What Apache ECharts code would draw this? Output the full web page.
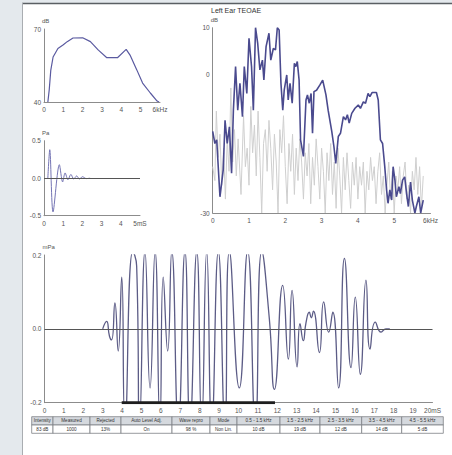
<!DOCTYPE html>
<html><head><meta charset="utf-8">
<script src="https://cdn.jsdelivr.net/npm/echarts@6.0.0/dist/echarts.min.js"></script>
<style>html,body{margin:0;padding:0;background:#e4e9ed;}#c{width:452px;height:455px;}</style>
</head><body><div id="c"></div>
<script>
// ---- data ----
const titleText = 'Left Ear TEOAE';
// stimulus spectrum (top-left)
const specF  = [0.2, 0.27, 0.35, 0.47, 0.72, 1.0, 1.2, 1.5, 2.0, 2.4, 2.8, 3.25, 3.8, 4.25, 4.45, 4.8, 5.1, 5.5, 5.85, 5.95];
const specDb = [40, 45, 53, 58.5, 62, 63.5, 64.8, 66.3, 66.4, 64.8, 61.4, 58.2, 58.2, 61.6, 59.3, 53.2, 47.8, 43.7, 40.4, 40];
// stimulus waveform (middle-left)
const pulseT = [0.2, 0.3, 0.47, 0.8, 0.97, 1.1, 1.25, 1.4, 1.55, 1.7, 1.85, 2.0, 2.2, 2.4];
const pulseV = [0, 0.38, -0.45, 0.18, -0.05, 0.07, -0.02, 0.05, -0.01, 0.03, -0.01, 0.02, -0.005, 0];
// TEOAE response spectrum (top-right)
const oaeF  = [0, 0.06, 0.11, 0.2, 0.29, 0.34, 0.4, 0.46, 0.52, 0.57, 0.63, 0.69, 0.75, 0.82, 0.87, 0.94, 1.0, 1.07, 1.12, 1.18, 1.24, 1.3, 1.37, 1.41, 1.47, 1.55, 1.6, 1.67, 1.73, 1.78, 1.83, 1.88, 1.93, 1.97, 2.04, 2.08, 2.13, 2.19, 2.25, 2.29, 2.33, 2.38, 2.42, 2.5, 2.57, 2.61, 2.66, 2.71, 2.75, 2.79, 2.86, 2.95, 3.03, 3.12, 3.18, 3.28, 3.34, 3.39, 3.46, 3.52, 3.6, 3.66, 3.71, 3.76, 3.83, 3.92, 4.01, 4.07, 4.15, 4.21, 4.28, 4.33, 4.39, 4.51, 4.56, 4.62, 4.68, 4.74, 4.79, 4.83, 4.88, 4.93, 4.97, 5.02, 5.06, 5.13, 5.17, 5.23, 5.29, 5.34, 5.39, 5.45, 5.5, 5.57, 5.61, 5.68, 5.73, 5.8];
const oaeDb = [-12.4, -15, -14.2, -26.5, -20.7, -10, -15, -11.4, -21.4, -7.8, 1.6, -7.8, -2, -9.2, 1.6, -4.2, 7.7, 1.6, -7.8, 10, 6.6, 0.9, 3, -1.3, 5.9, 8.8, 3, 5.5, 5.2, 10, 9.5, -2, -7.8, -3.5, -0.2, -5.6, -2, -6.3, 2.3, 1.6, 2.7, -1.3, -14.2, -17.8, -5.6, -4.5, -6.3, -4.2, -12.8, -3.8, -3.5, -2.4, -1.3, -4.5, -7.8, -12.4, -15.7, -19.3, -13.5, -12.8, -9.2, -9.9, -8.8, -10.6, -8.5, -7.4, -6.7, -7.4, -6, -6.3, -4.2, -4.9, -4, -4, -5.6, -14.2, -15, -20, -25, -27.9, -25, -27.2, -20, -22.9, -26.5, -24.3, -25.8, -22.9, -22.2, -25.8, -28.6, -23.3, -27.2, -30, -28.6, -26.5, -30, -27.2];
// noise spectrum (top-right, grey)
const noiseF  = [0, 0.06, 0.1, 0.15, 0.2, 0.25, 0.3, 0.35, 0.4, 0.45, 0.5, 0.55, 0.6, 0.65, 0.7, 0.78, 0.85, 0.9, 0.95, 1.0, 1.05, 1.1, 1.15, 1.2, 1.25, 1.3, 1.35, 1.4, 1.45, 1.5, 1.55, 1.6, 1.65, 1.7, 1.75, 1.8, 1.85, 1.9, 1.95, 2.0, 2.05, 2.1, 2.15, 2.2, 2.25, 2.3, 2.35, 2.4, 2.45, 2.5, 2.55, 2.6, 2.65, 2.7, 2.75, 2.8, 2.85, 2.9, 2.95, 3.0, 3.05, 3.1, 3.15, 3.2, 3.25, 3.3, 3.35, 3.4, 3.45, 3.5, 3.55, 3.6, 3.65, 3.7, 3.75, 3.8, 3.85, 3.9, 3.95, 4.0, 4.05, 4.1, 4.15, 4.2, 4.25, 4.3, 4.35, 4.4, 4.45, 4.5, 4.55, 4.6, 4.65, 4.7, 4.75, 4.8, 4.85, 4.9, 4.95, 5.0, 5.05, 5.1, 5.15, 5.2, 5.25, 5.3, 5.35, 5.4, 5.45, 5.5, 5.55, 5.6, 5.65, 5.7, 5.75, 5.8];
const noiseDb = [-20, -23, -8, -18, -13, -24, -16, -27, -14, -21, -3, -19, -12, -22, -14, -26, -9, -20, -16, -24, -7, -17, -11, -22, -8, -18, -30, -15, -12, -21, -10, -16, -25, -13, -19, -30, -12, -17, -9, -20, -28, -15, -21, -13, -26, -16, -23, -14, -19, -27, -17, -22, -15, -28, -18, -24, -14, -20, -27, -16, -21, -30, -17, -23, -15, -26, -19, -29, -16, -22, -30, -18, -25, -17, -23, -29, -19, -24, -18, -27, -20, -24, -19, -30, -21, -25, -18, -23, -20, -28, -21, -17, -26, -22, -30, -24, -19, -27, -21, -30, -22, -25, -20, -28, -22, -19, -27, -24, -30, -21, -25, -18, -26, -20, -29, -22];
// TEOAE time waveform (bottom)
const waveT = [3.0, 3.2, 3.35, 3.46, 3.63, 3.8, 3.98, 4.15, 4.55, 4.75, 4.9, 5.18, 5.44, 5.7, 5.95, 6.12, 6.35, 6.56, 6.9, 7.24, 7.5, 7.85, 8.1, 8.36, 8.62, 8.96, 9.3, 9.53, 10.04, 10.47, 10.87, 11.2, 11.59, 11.85, 12.28, 12.57, 12.76, 13.02, 13.17, 13.34, 13.48, 13.65, 13.75, 13.86, 14.17, 14.39, 14.65, 14.86, 15.16, 15.46, 15.8, 16.02, 16.28, 16.57, 16.78, 17.05, 17.35, 17.6, 17.8];
const waveV = [0, 0.02, -0.02, -0.03, 0.07, -0.06, 0.14, -0.26, 0.21, 0.17, -0.26, 0.21, -0.16, 0.21, -0.26, 0.14, -0.06, 0.21, -0.26, 0.21, -0.26, 0.21, -0.26, 0.21, -0.26, 0.21, -0.26, 0.21, -0.16, 0.21, -0.26, 0.21, 0.027, -0.164, 0.118, -0.082, 0.104, -0.103, 0.014, -0.032, 0.017, 0.045, 0.03, 0.048, -0.064, 0.073, -0.009, 0.045, -0.16, 0.191, -0.105, 0.086, -0.123, 0.132, -0.055, 0.018, -0.009, 0, 0];
const windowT = [3.98, 11.88];
const windowV = [-0.2, -0.2];
// result table
const tableHeaders = ['Intensity', 'Measured', 'Rejected', 'Auto Level Adj.', 'Wave repro', 'Mode', '0.5 - 1.5 kHz', '1.5 - 2.5 kHz', '2.5 - 3.5 kHz', '3.5 - 4.5 kHz', '4.5 - 5.5 kHz'];
const tableValues  = ['83 dB', '1000', '13%', 'On', '98 %', 'Non Lin.', '10 dB', '19 dB', '12 dB', '14 dB', '5 dB'];

// ---- chart ----
const zip = (a, b) => a.map((v, i) => [v, b[i]]);
const FONT = 'Liberation Sans';
const lbl = (extra) => Object.assign({fontSize: 6.5, color: '#555', fontFamily: FONT, margin: 3}, extra || {});
function xAx(g, max, unit) {
  return {type: 'value', gridIndex: g, min: 0, max: max, interval: 1,
    axisLine: {show: true, onZero: false, lineStyle: {color: '#8c8c8c', width: 1}},
    axisTick: {show: false}, splitLine: {show: false},
    axisLabel: lbl({margin: 4, formatter: v => v === max ? max + unit : String(v)})};
}
function yAx(g, min, max, interval, name, fmt) {
  return {type: 'value', gridIndex: g, min: min, max: max, interval: interval,
    name: name, nameLocation: 'end', nameGap: 5,
    nameTextStyle: {fontSize: 6, color: '#555', fontFamily: FONT, align: 'left', padding: [0, 0, 0, -2]},
    axisLine: {show: true, onZero: false, lineStyle: {color: '#8c8c8c', width: 1}}, axisTick: {show: false}, splitLine: {show: false},
    axisLabel: lbl({formatter: fmt})};
}
const f1 = v => (Math.abs(v) < 1e-9 ? '0.0' : v.toFixed(1));

// table graphics
const colX = [31.7, 53, 90, 121, 172, 210, 237, 280, 320, 361.7, 401.7, 443.3];
const tTop = 416.7, rowH = 8.3;
const graphics = [
  {type: 'rect', shape: {x: 22, y: 3, width: 430, height: 452}, style: {fill: '#ffffff'}, z: -10},
  {type: 'line', shape: {x1: 22, y1: 3.5, x2: 452, y2: 3.5}, style: {stroke: '#5a5f63', lineWidth: 1.5}, z: -9},
  {type: 'line', shape: {x1: 22.5, y1: 3, x2: 22.5, y2: 455}, style: {stroke: '#a9adb1', lineWidth: 1}, z: -9},
  {type: 'text', style: {x: 211, y: 10, text: titleText, font: '7px "Liberation Sans"', fill: '#333', textVerticalAlign: 'middle'}}
];
for (let i = 0; i < tableHeaders.length; i++) {
  const x = colX[i], w = colX[i + 1] - colX[i];
  graphics.push({type: 'rect', shape: {x: x, y: tTop, width: w, height: rowH}, style: {fill: '#d5d9de', stroke: '#7d8286', lineWidth: 0.8}});
  graphics.push({type: 'rect', shape: {x: x, y: tTop + rowH, width: w, height: rowH}, style: {fill: '#ffffff', stroke: '#7d8286', lineWidth: 0.8}});
  graphics.push({type: 'text', style: {x: x + w / 2, y: tTop + rowH / 2, text: tableHeaders[i], font: '4.6px "Liberation Sans"', fill: '#333', textAlign: 'center', textVerticalAlign: 'middle'}});
  graphics.push({type: 'text', style: {x: x + w / 2, y: tTop + rowH * 1.5, text: tableValues[i], font: '4.6px "Liberation Sans"', fill: '#333', textAlign: 'center', textVerticalAlign: 'middle'}});
}

const chart = echarts.init(document.getElementById('c'), null, {renderer: 'svg', width: 452, height: 455});
chart.setOption({
  backgroundColor: '#e4e9ed',
  animation: false,
  graphic: graphics,
  grid: [
    {left: 44, top: 29, width: 116, height: 73},
    {left: 44, top: 140.7, width: 96, height: 75},
    {left: 212.7, top: 27.7, width: 217.8, height: 185.3},
    {left: 44.5, top: 255, width: 388, height: 147.7}
  ],
  xAxis: [xAx(0, 6, 'kHz'), xAx(1, 5, 'mS'), xAx(2, 6, 'kHz'), xAx(3, 20, 'mS')],
  yAxis: [
    yAx(0, 40, 70, 30, 'dB', v => String(v)),
    yAx(1, -0.5, 0.5, 0.5, 'Pa', f1),
    yAx(2, -30, 10, 10, 'dB', v => (v === 10 || v === 0 || v === -30) ? String(v) : ''),
    yAx(3, -0.2, 0.2, 0.2, 'mPa', f1)
  ],
  series: [
    {type: 'line', xAxisIndex: 0, yAxisIndex: 0, data: zip(specF, specDb), showSymbol: false,
      lineStyle: {color: '#5a5aa0', width: 1.2}},
    {type: 'line', xAxisIndex: 1, yAxisIndex: 1, data: zip(pulseT, pulseV), showSymbol: false, smooth: 0.3,
      lineStyle: {color: '#7474b4', width: 1},
      markLine: {silent: true, symbol: 'none', label: {show: false}, lineStyle: {color: '#555', width: 1, type: 'solid'}, data: [{yAxis: 0}]}},
    {type: 'line', xAxisIndex: 2, yAxisIndex: 2, data: zip(noiseF, noiseDb), showSymbol: false,
      lineStyle: {color: '#cfcfcf', width: 1}},
    {type: 'line', xAxisIndex: 2, yAxisIndex: 2, data: zip(oaeF, oaeDb), showSymbol: false,
      lineStyle: {color: '#4a4a8e', width: 1.6}},
    {type: 'line', xAxisIndex: 3, yAxisIndex: 3, data: zip(waveT, waveV), showSymbol: false, smooth: 0.55, clip: true,
      lineStyle: {color: '#5c5c86', width: 1.3},
      markLine: {silent: true, symbol: 'none', label: {show: false}, lineStyle: {color: '#555', width: 1.2, type: 'solid'}, data: [{yAxis: 0}]}},
    {type: 'line', xAxisIndex: 3, yAxisIndex: 3, data: zip(windowT, windowV), showSymbol: false,
      lineStyle: {color: '#1e1e1e', width: 3}, z: 5}
  ]
});
</script></body></html>
